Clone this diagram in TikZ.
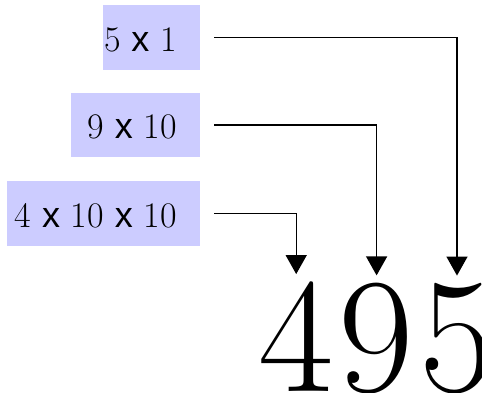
\documentclass[tikz,border=0pt]{standalone}
\usepackage{fontspec}
\newfontfamily\sx{Liberation Sans}
\usetikzlibrary{arrows.meta}
\definecolor{boxfill}{HTML}{CCCCFF}
\tikzset{
  box/.style={fill=boxfill, draw=none, minimum height=65pt, inner sep=0pt, anchor=north west},
  lbl/.style={inner sep=0pt, anchor=base east, font=\fontsize{36}{40}\selectfont},
  digit/.style={inner sep=0pt, minimum width=80pt, anchor=base west, font=\fontsize{164}{164}\selectfont},
  conn/.style={line width=1.4pt, -{Triangle[width=21pt,length=19pt]}, shorten <=14pt, shorten >=7pt}
}
\begin{document}
\begin{tikzpicture}[x=1pt,y=-1pt]
\useasboundingbox (0,0) rectangle (482,393);
\node[box, minimum width=97pt] (b1) at (103,5) {};
\node[box, minimum width=129pt, minimum height=64pt] (b2) at (71,93) {};
\node[box, minimum width=193pt] (b3) at (7,181) {};
\node[lbl] (t1) at (177,52) {5 {\sx x} 1};
\node[lbl] (t2) at (177,139) {9 {\sx x} 10};
\node[lbl] (t3) at (177,227) {4 {\sx x} 10 {\sx x} 10};
\node[digit] (d4) at (256,391) {4};
\node[digit] (d9) at (d4.base east) {9};
\node[digit] (d5) at (d9.base east) {5};
\draw[conn] (b1.east) -| (d5.north);
\draw[conn] (b2.east) -| (d9.north);
\draw[conn] (b3.east) -| (d4.north);
\end{tikzpicture}
\end{document}
